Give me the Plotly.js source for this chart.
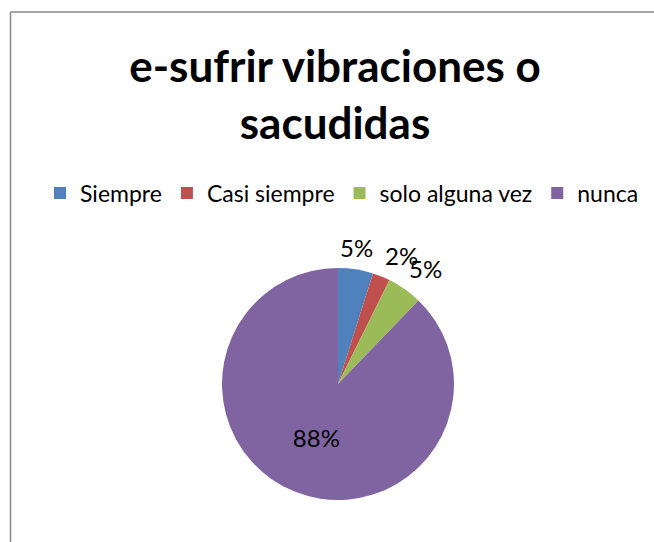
<!DOCTYPE html>
<html>
<head>
<meta charset="utf-8">
<script src="https://cdn.plot.ly/plotly-3.0.1.min.js"></script>
<style>
html,body{margin:0;padding:0;background:#fff;overflow:hidden;}
#chart{width:654px;height:542px;}
</style>
</head>
<body>
<div id="chart"></div>
<script>
// Data
const categories = ['Siempre', 'Casi siempre', 'solo alguna vez', 'nunca'];
const counts = [2, 1, 2, 36];
const colors = ['#4F81BD', '#C0504D', '#9BBB59', '#8064A2'];
const insideLabel = [false, false, false, true];
const chartTitle = 'e-sufrir vibraciones o<br>sacudidas';

const W = 654, H = 542;
const cx = 338, cy = 384, R = 116;
const labelFont = {family: 'Lato, sans-serif', size: 24, color: '#000'};

const total = counts.reduce((a, b) => a + b, 0);

// Outside labels (Excel style, no leader lines) placed from the slice mid-angles
const annotations = [];
let cum = 0;
counts.forEach((v, i) => {
  const mid = (cum + v / 2) / total * 2 * Math.PI; // clockwise from 12 o'clock
  cum += v;
  if (insideLabel[i]) return;
  const r = R + 6;
  const px = cx + r * Math.sin(mid);
  const py = cy - r * Math.cos(mid);
  annotations.push({
    xref: 'paper', yref: 'paper',
    x: px / W, y: 1 - py / H,
    xanchor: Math.sin(mid) > 0.2 ? 'left' : 'center',
    yanchor: 'bottom',
    text: Math.round(v / total * 100) + '%',
    showarrow: false,
    font: labelFont,
    borderpad: 0
  });
});

const trace = {
  type: 'pie',
  labels: categories,
  values: counts,
  sort: false,
  direction: 'clockwise',
  rotation: 0,
  marker: {colors: colors, line: {width: 0}},
  texttemplate: '%{percent:.0%}',
  textposition: insideLabel.map(b => b ? 'inside' : 'none'),
  textfont: labelFont,
  insidetextorientation: 'horizontal',
  hoverinfo: 'label+percent',
  domain: {x: [(cx - R) / W, (cx + R) / W], y: [(H - cy - R) / H, (H - cy + R) / H]}
};

const layout = {
  width: W, height: H,
  margin: {l: 0, r: 0, t: 0, b: 0},
  paper_bgcolor: '#fff',
  title: {
    text: chartTitle,
    font: {family: 'Lato, sans-serif', size: 44, color: '#000', weight: 'bold'},
    x: 335 / W, xanchor: 'center', xref: 'container',
    y: 1 - 82 / H, yanchor: 'top', yref: 'container'
  },
  showlegend: true,
  legend: {
    orientation: 'h',
    x: 342 / W, xanchor: 'center',
    y: 1 - 193 / H, yanchor: 'middle',
    font: {family: 'Lato, sans-serif', size: 23, color: '#000'},
    traceorder: 'normal',
    itemwidth: 30
  },
  annotations: annotations,
  shapes: [
    {type: 'line', xref: 'paper', yref: 'paper', x0: 10.5 / W, x1: 10.5 / W, y0: 0, y1: 1 - 12 / H, line: {color: '#878787', width: 1.5}},
    {type: 'line', xref: 'paper', yref: 'paper', x0: 10.5 / W, x1: 1, y0: 1 - 12 / H, y1: 1 - 12 / H, line: {color: '#878787', width: 1.5}}
  ]
};

Plotly.newPlot('chart', [trace], layout, {displayModeBar: false, staticPlot: true});
</script>
</body>
</html>
